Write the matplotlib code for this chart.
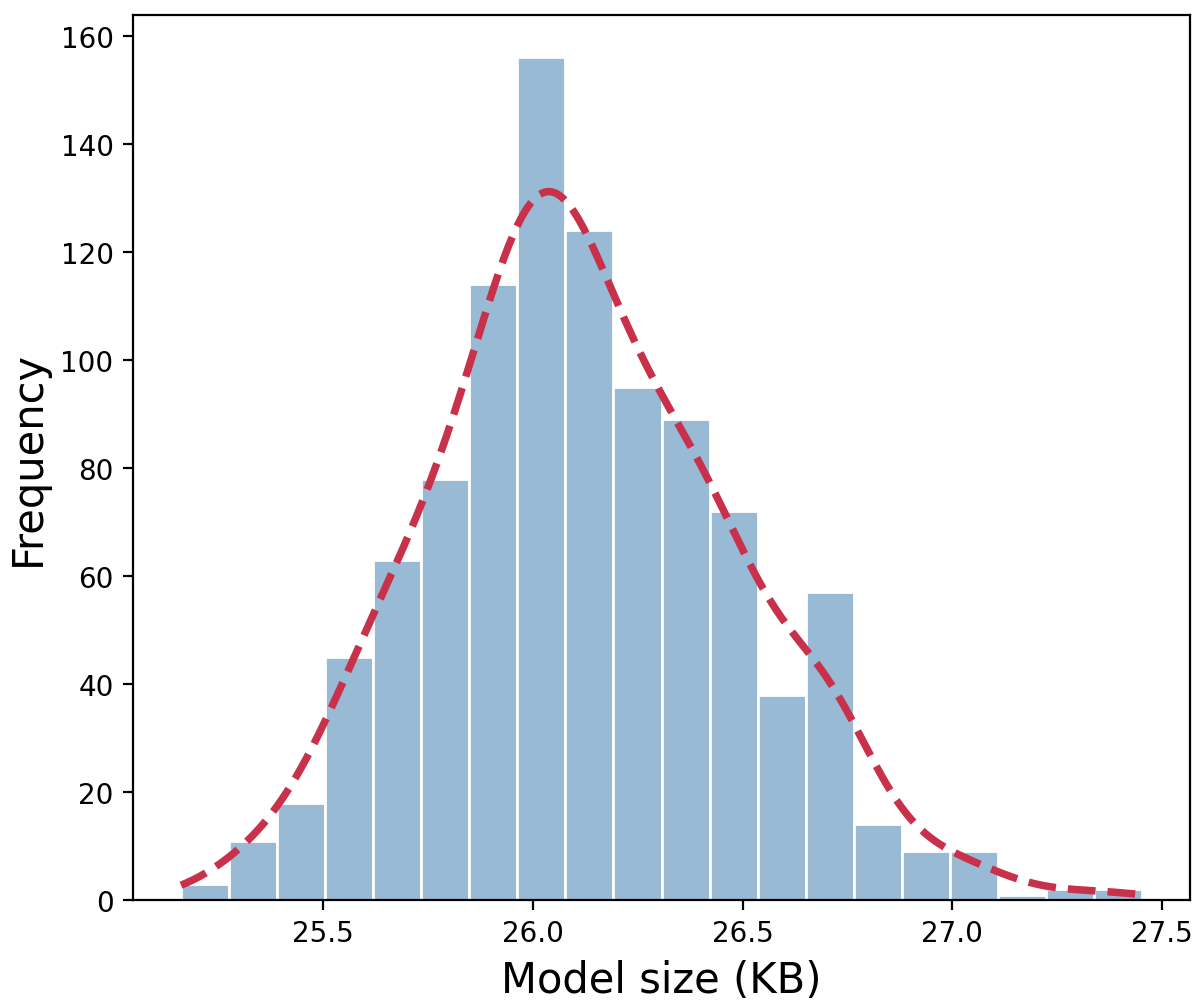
import numpy as np
import matplotlib

matplotlib.use("Agg")
import matplotlib.pyplot as plt  # noqa: E402

# histogram
size_min = 25.161
size_max = 27.452
counts = [3, 11, 18, 45, 63, 78, 114, 156, 124, 95,
          89, 72, 38, 57, 14, 9, 9, 1, 2, 2]

edges = np.linspace(size_min, size_max, len(counts) + 1)
centers = (edges[:-1] + edges[1:]) / 2
width = edges[1] - edges[0]
n = sum(counts)

# gaussian kde of the binned sizes, scaled to counts
w = np.array(counts, dtype=float)
mean = np.sum(w * centers) / n
std = np.sqrt(np.sum(w * (centers - mean) ** 2) / n)
bw = 1.22 * std * n ** (-1 / 5)
xs = np.linspace(size_min, size_max, 400)
dens = np.sum(w[None, :] * np.exp(-0.5 * ((xs[:, None] - centers[None, :]) / bw) ** 2), axis=1)
dens = dens / (n * bw * np.sqrt(2 * np.pi)) * n * width

fig = plt.figure(figsize=(6.02, 5.02), dpi=200)
ax = fig.add_axes([133 / 1204, 1 - 901 / 1004, (1190 - 133) / 1204, (901 - 16) / 1004])

ax.hist(centers, bins=edges, weights=counts, facecolor=(0.274, 0.51, 0.706, 0.55),
        edgecolor="white", linewidth=1)
ax.plot(xs, dens, color="#c9304a", linestyle="--", linewidth=2.7)

ax.set_xlabel("Model size (KB)", fontsize=15)
ax.set_ylabel("Frequency", fontsize=15)
ax.tick_params(labelsize=10)

fig.savefig("out.png", dpi=200)
plt.close(fig)
